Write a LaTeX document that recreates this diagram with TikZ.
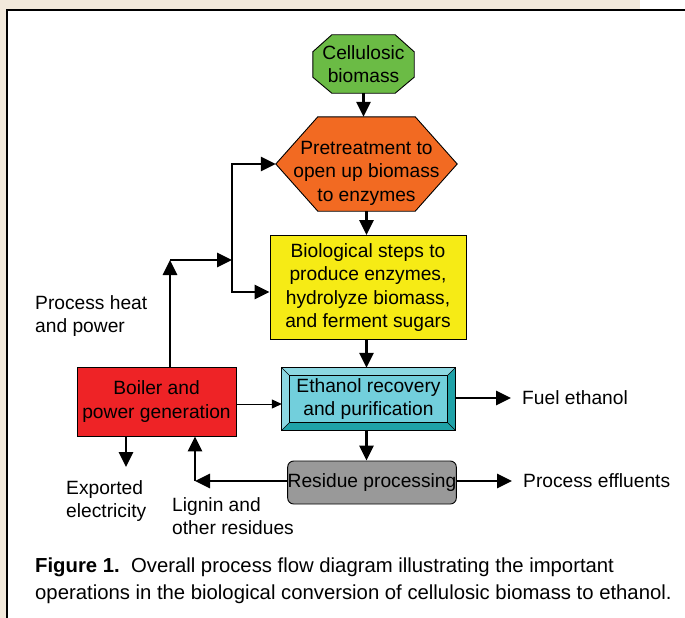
\documentclass[tikz,border=0pt]{standalone}
\usepackage{fontspec}
\setmainfont{Liberation Sans}
\usetikzlibrary{arrows.meta,calc,backgrounds}
\definecolor{beigebg}{HTML}{F2E9DB}
\definecolor{cgreen}{HTML}{6BBB45}
\definecolor{corange}{HTML}{F26A22}
\definecolor{cyellow}{HTML}{F6EB15}
\definecolor{ccyan}{HTML}{72CFDC}
\definecolor{ccyanlt}{HTML}{8CD8E2}
\definecolor{ccyandk}{HTML}{1FA2A8}
\definecolor{cred}{HTML}{EE2326}
\definecolor{cgray}{HTML}{999999}
\tikzset{
  lbl/.style={font=\fontsize{19.2}{23.5}\selectfont, align=center, inner sep=0pt},
  side/.style={font=\fontsize{19.2}{23}\selectfont, align=left, inner sep=0pt},
  shapeline/.style={draw=black, line width=0.9pt},
  arr/.style={line width=2.7pt, -{Triangle[length=15pt,width=14pt]}},
  thinarr/.style={line width=1pt, -{Triangle[length=10pt,width=9pt]}},
  bar/.style={line width=2.7pt, line cap=rect},
}
\begin{document}
\begin{tikzpicture}[x=1pt,y=-1pt]
\useasboundingbox (0,0) rectangle (685,618);
\begin{scope}[on background layer]
\fill[white] (0,0) rectangle (685,618);
\fill[beigebg] (0,0) rectangle (640,10);
\fill[beigebg] (0,0) rectangle (7,618);
\draw[line width=1.6pt] (685,10) -| (7,618);
\end{scope}

% nodes
\node[lbl, minimum width=101pt, minimum height=58pt] (cell) at (363.5,64) {Cellulosic\\biomass};
\node[lbl, minimum width=181pt, minimum height=94pt] (pre) at (366.5,164) {};
\node[lbl] (pretxt) at (366.5,173) {Pretreatment to\\open up biomass\\to enzymes};
\node[lbl, shapeline, fill=cyellow, minimum width=196pt, minimum height=104pt] (bio) at (368,287.5) {Biological steps to\\produce enzymes,\\hydrolyze biomass,\\and ferment sugars};
\node[lbl, minimum width=173pt, minimum height=62pt] (eth) at (368.5,399) {Ethanol recovery\\and purification};
\node[lbl, shapeline, fill=cgray, rounded corners=6pt, minimum width=168pt, minimum height=43pt] (res) at (372,482.5) {Residue processing};
\node[lbl, shapeline, fill=cred, minimum width=159pt, minimum height=69pt] (boil) at (156.5,401.5) {Boiler and\\power generation};

\node[side, anchor=west] (fuel) at (522,398) {Fuel ethanol};
\node[side, anchor=west] (eff) at (523,481) {Process effluents};
\node[side, anchor=north west] (exp) at (66,480) {Exported\\electricity};
\node[side, anchor=north west] (lig) at (172,497) {Lignin and\\other residues};
\node[side, anchor=north west] (heat) at (35,295) {Process heat\\and power};
\node[font=\fontsize{20.3}{27}\selectfont, align=left, inner sep=0pt, anchor=north west] (cap) at (35,558)
  {\textbf{Figure 1.}\ \ Overall process flow diagram illustrating the important\\operations in the biological conversion of cellulosic biomass to ethanol.};

% shapes behind text
\begin{scope}[on background layer]
\draw[shapeline, fill=cgreen]
  ($(cell.north west)+(19,0)$) -- ($(cell.north east)+(-19,0)$) -- ($(cell.north east)+(0,17)$)
  -- ($(cell.south east)+(0,-16)$) -- ($(cell.south east)+(-19,0)$) -- ($(cell.south west)+(19,0)$)
  -- ($(cell.south west)+(0,-16)$) -- ($(cell.north west)+(0,17)$) -- cycle;
\draw[shapeline, fill=corange]
  (pre.west) -- ($(pre.north west)+(42,0)$) -- ($(pre.north east)+(-42,0)$) -- (pre.east)
  -- ($(pre.south east)+(-42,0)$) -- ($(pre.south west)+(42,0)$) -- cycle;
% bevelled box
\coordinate (iNW) at ($(eth.north west)+(8,8)$);
\coordinate (iNE) at ($(eth.north east)+(-8,8)$);
\coordinate (iSW) at ($(eth.south west)+(8,-8)$);
\coordinate (iSE) at ($(eth.south east)+(-8,-8)$);
\fill[ccyanlt] (eth.north west) -- (eth.north east) -- (iNE) -- (iNW) -- cycle;
\fill[ccyanlt] (eth.north west) -- (iNW) -- (iSW) -- (eth.south west) -- cycle;
\fill[ccyandk] (eth.north east) -- (eth.south east) -- (iSE) -- (iNE) -- cycle;
\fill[ccyandk] (eth.south west) -- (iSW) -- (iSE) -- (eth.south east) -- cycle;
\draw[line width=0.6pt] (eth.north west) -- (iNW) (eth.north east) -- (iNE) (eth.south west) -- (iSW) (eth.south east) -- (iSE);
\draw[shapeline] (eth.north west) rectangle (eth.south east);
\draw[shapeline, fill=ccyan] (iNW) rectangle (iSE);
\end{scope}

% connectors
\draw[arr] (cell.south) -- (cell.south |- pre.north);
\draw[arr] (pre.south) -- (pre.south |- bio.north);
\draw[arr] (pre.south |- bio.south) -- (pre.south |- eth.north);
\draw[arr] (pre.south |- eth.south) -- (pre.south |- res.north);
\draw[arr, shorten >=11pt] (eth.east |- fuel.west) -- (fuel.west);
\draw[arr, shorten >=11pt] (res.east |- eff.west) -- (eff.west);

\coordinate (lc) at (195,481);
\draw[arr] (res.west |- lc) -- (lc);
\draw[arr] (lc) -- (lc |- boil.south);

\coordinate (ex) at (126,467);
\draw[arr] (ex |- boil.south) -- (ex);

\draw[thinarr] (boil.east |- 0,404) -- (eth.west |- 0,404);

\coordinate (ph) at (170,260);
\coordinate (sp) at (232,260);
\coordinate (tb) at (232,292);
\draw[arr] (ph |- boil.north) -- (ph);
\draw[arr] (ph) -- (sp);
\draw[bar] (sp |- pre.west) -- (tb);
\draw[arr] (sp |- pre.west) -- (pre.west);
\draw[arr] (tb) -- (tb -| bio.west);
\end{tikzpicture}
\end{document}
